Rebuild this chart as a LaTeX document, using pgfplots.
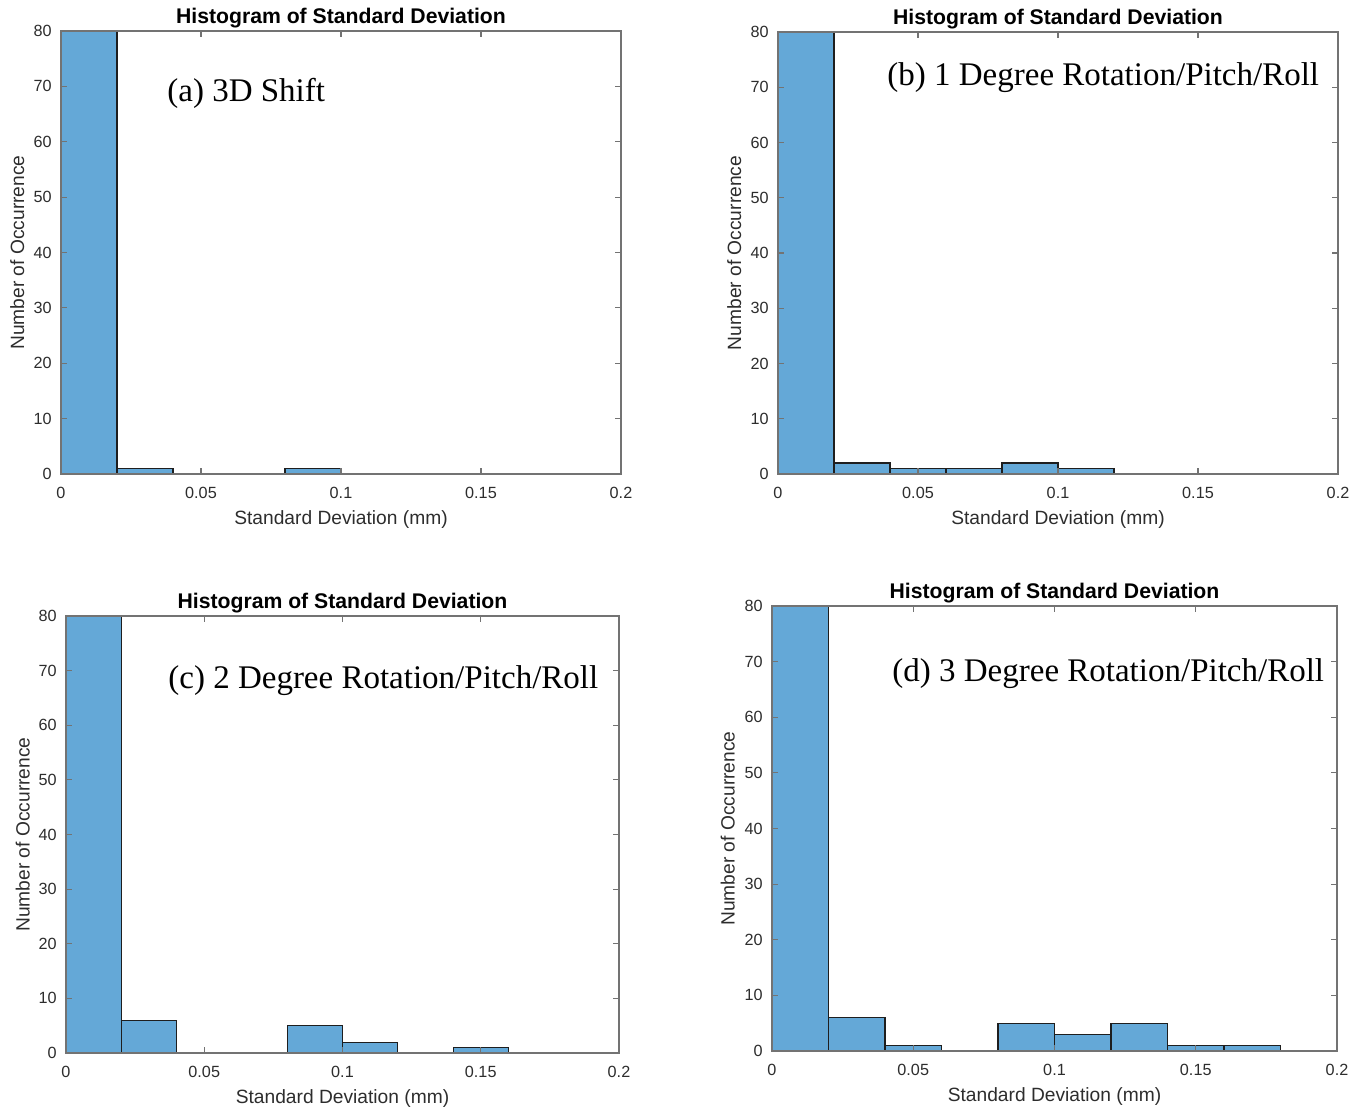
\documentclass[border=0pt]{standalone}
\usepackage{pgfplots}
\pgfplotsset{compat=1.18}
\usepackage{fontspec}
\setmainfont{Liberation Sans}
\newfontfamily\timesf{Liberation Serif}
\definecolor{barblue}{RGB}{100,168,215}
\definecolor{axgray}{RGB}{115,115,115}
\definecolor{txtgray}{RGB}{45,45,45}
\definecolor{edgecol}{RGB}{30,30,30}
\pgfplotsset{
  every axis title shift=0pt,
  histo/.style={
    scale only axis,
    xmin=0, xmax=0.2, ymin=0, ymax=80,
    xtick={0,0.05,0.1,0.15,0.2},
    xticklabels={0,0.05,0.1,0.15,0.2},
    ytick={0,10,20,30,40,50,60,70,80},
    tick align=inside, tick pos=both,
    major tick length=2.8pt,
    axis line style={axgray, line width=0.6pt},
    tick style={axgray, line width=0.6pt},
    axis on top,
    /pgf/number format/assume math mode=true,
    tick label style={font=\fontsize{8.1}{9}\selectfont, text=txtgray},
    xticklabel style={yshift=-3.2pt},
    yticklabel style={xshift=-1.2pt},
    label style={font=\fontsize{9.6}{11}\selectfont, text=txtgray},
    xlabel={Standard Deviation (mm)},
    ylabel={Number of Occurrence},
    xlabel style={at={(axis description cs:0.5,0)}, anchor=base, yshift=-25pt},
    ylabel style={at={(axis description cs:-0.066,0.5)}, anchor=base},
    title={Histogram of Standard Deviation},
    title style={font=\bfseries\fontsize{10.6}{12}\selectfont, text=black, at={(axis description cs:0.5,1)}, anchor=base, yshift=4pt},
  },
  bars/.style={ybar, bar width=0.02, bar shift=0pt, fill=barblue, draw=edgecol, line width=0.55pt},
}
\begin{document}
\begin{tikzpicture}
\path[use as bounding box] (0,0) rectangle (683.5pt,-553.5pt);
% (a)
\begin{axis}[histo, at={(30.5pt,-237pt)}, anchor=south west, width=280pt, height=221.5pt]
\addplot[bars] coordinates {(0.01,98) (0.03,1) (0.09,1)};
\end{axis}
% (b)
\begin{axis}[histo, at={(389pt,-237pt)}, anchor=south west, width=280pt, height=221pt]
\addplot[bars] coordinates {(0.01,93) (0.03,2) (0.05,1) (0.07,1) (0.09,2) (0.11,1)};
\end{axis}
% (c)
\begin{axis}[histo, at={(33pt,-526.5pt)}, anchor=south west, width=276.5pt, height=218.5pt]
\addplot[bars] coordinates {(0.01,86) (0.03,6) (0.09,5) (0.11,2) (0.15,1)};
\end{axis}
% (d)
\begin{axis}[histo, at={(386pt,-525.5pt)}, anchor=south west, width=282.5pt, height=222.5pt]
\addplot[bars] coordinates {(0.01,90) (0.03,6) (0.05,1) (0.09,5) (0.11,3) (0.13,5) (0.15,1) (0.17,1)};
\end{axis}
\node[anchor=base west, inner sep=0pt, font=\timesf\fontsize{16.5}{18}\selectfont] at (83.5pt,-51pt) {(a) 3D Shift};
\node[anchor=base west, inner sep=0pt, font=\timesf\fontsize{16.5}{18}\selectfont] at (443.5pt,-43pt) {(b) 1 Degree Rotation/Pitch/Roll};
\node[anchor=base west, inner sep=0pt, font=\timesf\fontsize{16.5}{18}\selectfont] at (84pt,-344pt) {(c) 2 Degree Rotation/Pitch/Roll};
\node[anchor=base west, inner sep=0pt, font=\timesf\fontsize{16.5}{18}\selectfont] at (446pt,-340.5pt) {(d) 3 Degree Rotation/Pitch/Roll};
\end{tikzpicture}
\end{document}
